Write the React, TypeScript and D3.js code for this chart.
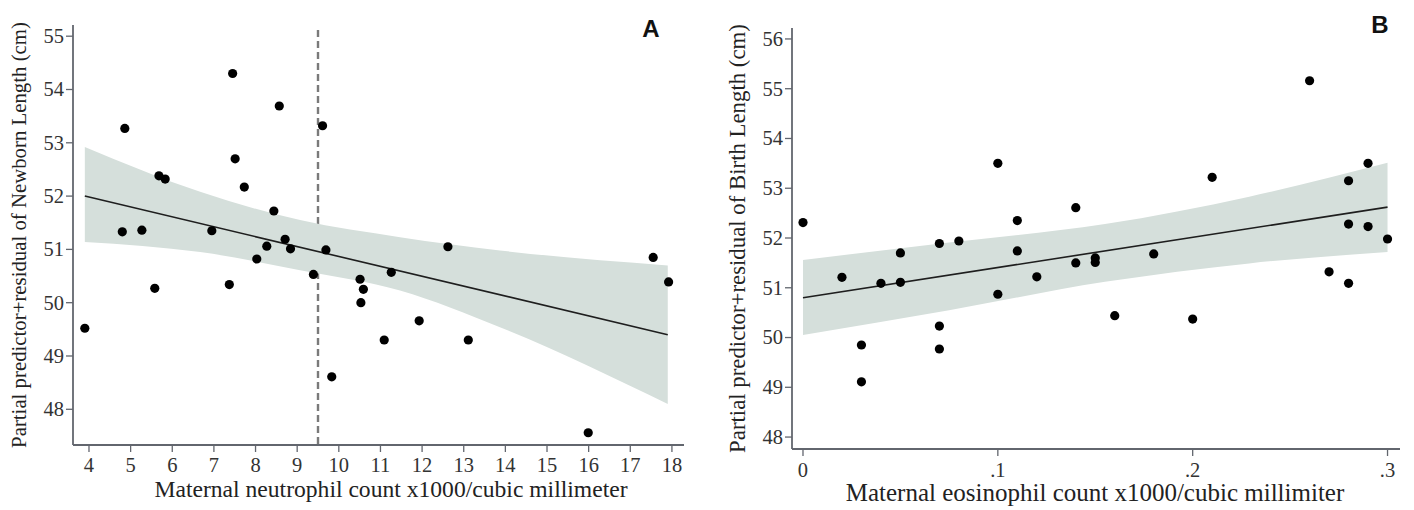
import React from "react";
import * as d3 from "d3";

// Panel A: maternal neutrophil count vs newborn length
const neutroX = [3.9, 4.8, 4.86, 5.27, 5.58, 5.68, 5.83, 6.95, 7.37, 7.45, 7.51, 7.73, 8.03, 8.27, 8.44, 8.57, 8.71, 8.84, 9.39, 9.61, 9.69, 9.83, 10.51, 10.59, 10.53, 11.09, 11.26, 11.93, 12.62, 13.11, 15.99, 17.55, 17.92];
const neutroY = [49.52, 51.33, 53.27, 51.36, 50.27, 52.38, 52.32, 51.35, 50.34, 54.3, 52.7, 52.17, 50.82, 51.06, 51.72, 53.69, 51.19, 51.01, 50.53, 53.32, 50.99, 48.61, 50.44, 50.25, 50.0, 49.3, 50.57, 49.66, 51.05, 49.3, 47.56, 50.85, 50.39];
const neutroFitX = [3.9, 17.9];
const neutroFitY = [52.0, 49.4];
const neutroBandX = [3.9, 6.67, 9.07, 11.47, 13.87, 17.9];
const neutroBandUpper = [52.92, 52.08, 51.55, 51.23, 50.98, 50.7];
const neutroBandLower = [51.14, 50.95, 50.61, 50.23, 49.54, 48.1];
const neutroCutoff = 9.5;
const neutroXTicks = [4, 5, 6, 7, 8, 9, 10, 11, 12, 13, 14, 15, 16, 17, 18];
const neutroYTicks = [48, 49, 50, 51, 52, 53, 54, 55];

// Panel B: maternal eosinophil count vs birth length
const eosX = [0, 0.02, 0.03, 0.03, 0.04, 0.05, 0.05, 0.07, 0.07, 0.07, 0.08, 0.1, 0.1, 0.11, 0.11, 0.12, 0.14, 0.14, 0.15, 0.15, 0.16, 0.18, 0.2, 0.21, 0.26, 0.27, 0.28, 0.28, 0.28, 0.29, 0.29, 0.3];
const eosY = [52.31, 51.21, 49.85, 49.11, 51.09, 51.7, 51.11, 51.89, 50.23, 49.77, 51.94, 53.5, 50.87, 52.35, 51.74, 51.22, 52.61, 51.5, 51.6, 51.51, 50.44, 51.68, 50.37, 53.22, 55.16, 51.32, 53.15, 52.28, 51.09, 53.5, 52.23, 51.98];
const eosFitX = [0, 0.3];
const eosFitY = [50.8, 52.62];
const eosBandX = [0, 0.075, 0.155, 0.229, 0.3];
const eosBandUpper = [51.56, 51.91, 52.28, 52.83, 53.51];
const eosBandLower = [50.05, 50.55, 51.12, 51.49, 51.72];
const eosXTicks = [0, 0.1, 0.2, 0.3];
const eosXTickLabels = ["0", ".1", ".2", ".3"];
const eosYTicks = [48, 49, 50, 51, 52, 53, 54, 55, 56];

const SERIF = "'Liberation Serif', 'Times New Roman', serif";
const SANS = "'Liberation Sans', Arial, sans-serif";
const AXIS = "#62666e";
const BAND = "#d5dfdb";

type PanelProps = {
  xs: number[];
  ys: number[];
  fitX: number[];
  fitY: number[];
  bandX: number[];
  bandU: number[];
  bandL: number[];
  xDomain: [number, number];
  xRange: [number, number];
  yDomain: [number, number];
  yRange: [number, number];
  xTicks: number[];
  xTickLabels: string[];
  yTicks: number[];
  xTitle: string;
  yTitle: string;
  xTitleX: number;
  xTitleY: number;
  xTitleSize: number;
  yTitleX: number;
  yTitleSize: number;
  xTickY: number;
  letter: string;
  letterX: number;
  letterY: number;
  cutoff?: number;
};

function Panel(p: PanelProps) {
  const x = d3.scaleLinear().domain(p.xDomain).range(p.xRange);
  const y = d3.scaleLinear().domain(p.yDomain).range(p.yRange);
  const bandData = p.bandX.map((v, i) => ({ x: v, u: p.bandU[i], l: p.bandL[i] }));
  const area = d3
    .area<{ x: number; u: number; l: number }>()
    .x((d) => x(d.x))
    .y0((d) => y(d.l))
    .y1((d) => y(d.u))
    .curve(d3.curveMonotoneX);
  const line = d3
    .line<number>()
    .x((d) => x(d))
    .y((_, i) => y(p.fitY[i]));
  const x0 = p.xRange[0];
  const x1 = p.xRange[1];
  const yb = p.yRange[0];
  const yt = p.yRange[1];
  const yMid = (yb + yt) / 2;
  return (
    <g>
      {p.cutoff !== undefined && (
        <line
          x1={x(p.cutoff)}
          x2={x(p.cutoff)}
          y1={yt + 5}
          y2={yb}
          stroke="#7a7a7a"
          strokeWidth={2.4}
          strokeDasharray="7,4"
        />
      )}
      <path d={area(bandData) || ""} fill={BAND} />
      <path d={line(p.fitX) || ""} fill="none" stroke="#1e1e1e" strokeWidth={1.6} />
      {p.xs.map((v, i) => (
        <circle key={i} cx={x(v)} cy={y(p.ys[i])} r={4.6} fill="#000" />
      ))}
      {/* axes */}
      <line x1={x0} x2={x0} y1={yt} y2={yb} stroke={AXIS} strokeWidth={1.8} />
      <line x1={x0} x2={x1} y1={yb} y2={yb} stroke={AXIS} strokeWidth={1.8} />
      {p.yTicks.map((t) => (
        <g key={"y" + t}>
          <line x1={x0 - 7} x2={x0} y1={y(t)} y2={y(t)} stroke={AXIS} strokeWidth={1.3} />
          <text
            x={x0 - 9}
            y={y(t)}
            dy="0.34em"
            textAnchor="end"
            fontFamily={SERIF}
            fontSize={20.5}
            fill="#333"
          >
            {t}
          </text>
        </g>
      ))}
      {p.xTicks.map((t, i) => (
        <g key={"x" + t}>
          <line x1={x(t)} x2={x(t)} y1={yb} y2={yb + 7} stroke={AXIS} strokeWidth={1.3} />
          <text
            x={x(t)}
            y={p.xTickY}
            textAnchor="middle"
            fontFamily={SERIF}
            fontSize={20.5}
            fill="#333"
          >
            {p.xTickLabels[i]}
          </text>
        </g>
      ))}
      <text
        x={p.xTitleX}
        y={p.xTitleY}
        textAnchor="middle"
        fontFamily={SERIF}
        fontSize={p.xTitleSize}
        fill="#222"
      >
        {p.xTitle}
      </text>
      <text
        transform={`translate(${p.yTitleX},${yMid}) rotate(-90)`}
        textAnchor="middle"
        fontFamily={SERIF}
        fontSize={p.yTitleSize}
        fill="#222"
        dy="0.35em"
      >
        {p.yTitle}
      </text>
      <text
        x={p.letterX}
        y={p.letterY}
        textAnchor="middle"
        fontFamily={SANS}
        fontWeight="bold"
        fontSize={24}
        fill="#111"
      >
        {p.letter}
      </text>
    </g>
  );
}

export default function App() {
  return (
    <svg
      width={1414}
      height={510}
      style={{ position: "absolute", left: 0, top: 0, background: "#fff" }}
    >
      <rect width={1414} height={510} fill="#fff" />
      <Panel
        xs={neutroX}
        ys={neutroY}
        fitX={neutroFitX}
        fitY={neutroFitY}
        bandX={neutroBandX}
        bandU={neutroBandUpper}
        bandL={neutroBandLower}
        xDomain={[3.616, 18.29]}
        xRange={[73, 684]}
        yDomain={[47.33, 55.21]}
        yRange={[445, 25]}
        xTicks={neutroXTicks}
        xTickLabels={neutroXTicks.map(String)}
        yTicks={neutroYTicks}
        xTitle="Maternal neutrophil count x1000/cubic millimeter"
        yTitle="Partial predictor+residual of Newborn Length (cm)"
        xTitleX={391}
        xTitleY={497}
        xTitleSize={23.6}
        yTitleX={19}
        yTitleSize={20.8}
        xTickY={472}
        letter="A"
        letterX={651}
        letterY={37}
        cutoff={neutroCutoff}
      />
      <Panel
        xs={eosX}
        ys={eosY}
        fitX={eosFitX}
        fitY={eosFitY}
        bandX={eosBandX}
        bandU={eosBandUpper}
        bandL={eosBandLower}
        xDomain={[-0.00564, 0.3064]}
        xRange={[792, 1400]}
        yDomain={[47.76, 56.22]}
        yRange={[449, 28]}
        xTicks={eosXTicks}
        xTickLabels={eosXTickLabels}
        yTicks={eosYTicks}
        xTitle="Maternal eosinophil count x1000/cubic millimiter"
        yTitle="Partial predictor+residual of Birth Length (cm)"
        xTitleX={1095}
        xTitleY={501}
        xTitleSize={25}
        yTitleX={737}
        yTitleSize={22.8}
        xTickY={477}
        letter="B"
        letterX={1380}
        letterY={33}
      />
    </svg>
  );
}
